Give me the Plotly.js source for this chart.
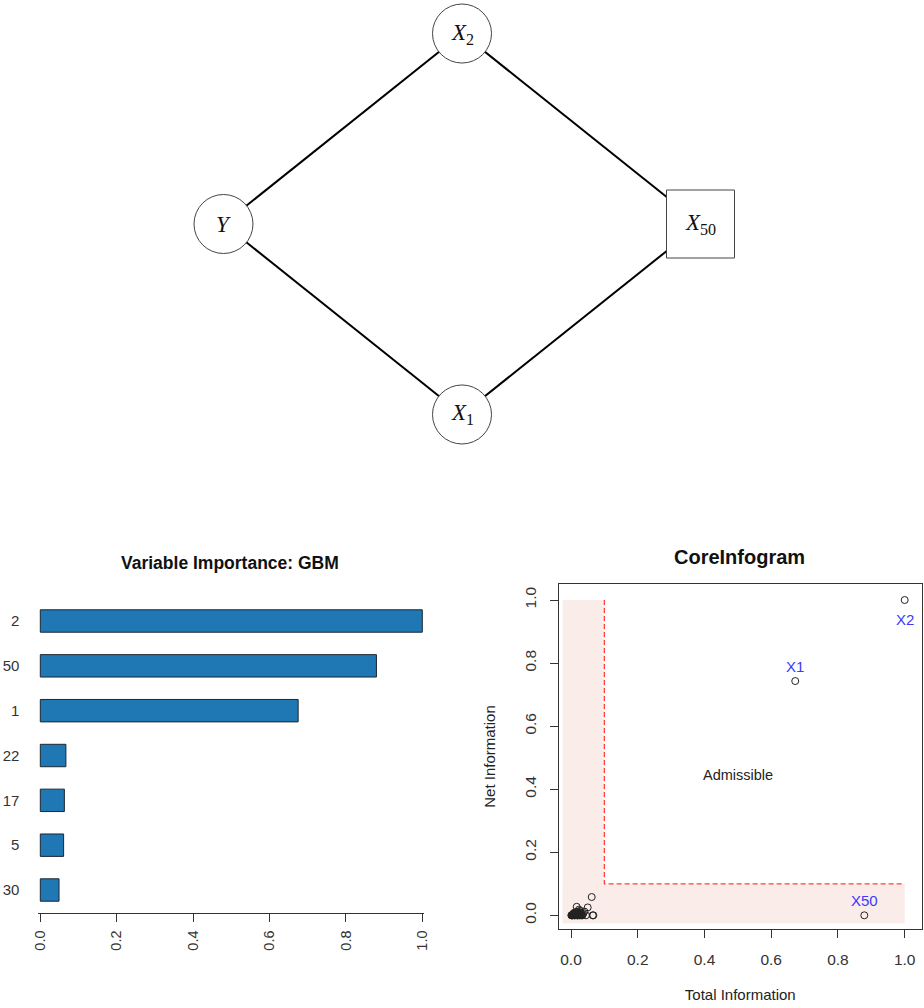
<!DOCTYPE html>
<html>
<head>
<meta charset="utf-8">
<script src="https://cdn.plot.ly/plotly-3.0.1.min.js"></script>
<style>html,body{margin:0;padding:0;background:#fff;}#chart{width:924px;height:1008px;}</style>
</head>
<body>
<div id="chart"></div>
<script>
// ---- Graph (top) ----
const nodeNames = ['Y', 'X2', 'X1', 'X50'];
const nodeLabels = ['<i>Y</i>', '<i>X</i><sub>2</sub>', '<i>X</i><sub>1</sub>', '<i>X</i><sub>50</sub>'];
const nodeX = [0, 1, 1, 2];
const nodeY = [0, 1, -1, 0];
const nodeShape = ['circle', 'circle', 'circle', 'rect'];
const edges = [['Y', 'X2'], ['X2', 'X50'], ['Y', 'X1'], ['X1', 'X50']];

// ---- Variable importance (bottom left) ----
const impLabels = ['2', '50', '1', '22', '17', '5', '30'];
const impValues = [1.0, 0.880, 0.675, 0.067, 0.063, 0.061, 0.049];
const impTicks = [0, 0.2, 0.4, 0.6, 0.8, 1.0];
const impTickText = ['0.0', '0.2', '0.4', '0.6', '0.8', '1.0'];

// ---- CoreInfogram (bottom right) ----
const namedVars = ['X1', 'X2', 'X50'];
const namedTotal = [0.672, 1.0, 0.879];
const namedNet = [0.743, 1.0, 0.0];
const namedLabelPos = ['above', 'below', 'above'];
const otherTotal = [0.062,0.050,0.017,0.024,0.040,0.067,0.065,0.045,0.036,0.030,0.028,0.021,0.013,0.008,0.004,0.002,0.006,0.010,0.012,0.015,0.018,0.020,0.022,0.025,0.027,0.032,0.034,0.003,0.005,0.007,0.009,0.011,0.014,0.016,0.019,0.023,0.026,0.029,0.031,0.001,0.012,0.018,0.024,0.008,0.015,0.021,0.027];
const otherNet = [0.058,0.025,0.027,0.018,0.012,0.0,0.0,0.0,0.004,0.008,0.014,0.012,0.010,0.004,0.0,0.0,0.002,0.0,0.003,0.0,0.005,0.0,0.007,0.003,0.0,0.002,0.0,0.001,0.0,0.001,0.003,0.0,0.002,0.004,0.0,0.002,0.009,0.001,0.0,0.0,0.006,0.010,0.0,0.007,0.001,0.004,0.005];
const cutoff = 0.1;
const regionMin = -0.025;
const regionMax = 1.0;
const coreTicks = [0, 0.2, 0.4, 0.6, 0.8, 1.0];
const coreTickText = ['0.0', '0.2', '0.4', '0.6', '0.8', '1.0'];

const FONT = 'Liberation Sans, Arial, sans-serif';
const SERIF = 'Liberation Serif, Times New Roman, serif';

const traces = [];

// edges
const ex = [], ey = [];
edges.forEach(([a, b]) => {
  const i = nodeNames.indexOf(a), j = nodeNames.indexOf(b);
  ex.push(nodeX[i], nodeX[j], null);
  ey.push(nodeY[i], nodeY[j], null);
});
traces.push({
  type: 'scatter', mode: 'lines', x: ex, y: ey, xaxis: 'x3', yaxis: 'y3',
  line: {color: '#000', width: 2}, hoverinfo: 'skip'
});

// bars
traces.push({
  type: 'bar', orientation: 'h', x: impValues, y: impLabels, xaxis: 'x', yaxis: 'y',
  width: 0.5,
  marker: {color: '#1F77B4', line: {color: '#1b2733', width: 1}}
});

// cutoff dashed line
traces.push({
  type: 'scatter', mode: 'lines', x: [cutoff, cutoff, regionMax], y: [regionMax, cutoff, cutoff],
  xaxis: 'x2', yaxis: 'y2', line: {color: '#FF4040', width: 1.3, dash: '5px,3px'}, hoverinfo: 'skip'
});

// points
traces.push({
  type: 'scatter', mode: 'markers', x: otherTotal.concat(namedTotal), y: otherNet.concat(namedNet),
  xaxis: 'x2', yaxis: 'y2',
  marker: {symbol: 'circle-open', size: 7, color: '#222', line: {width: 1, color: '#222'}}
});

const shapes = [];
nodeNames.forEach((n, i) => {
  const half = nodeShape[i] === 'rect' ? 34 : 29.5;
  shapes.push({
    type: nodeShape[i], xref: 'x3', yref: 'y3', xsizemode: 'pixel', ysizemode: 'pixel',
    xanchor: nodeX[i], yanchor: nodeY[i], x0: -half, x1: half, y0: -half, y1: half,
    fillcolor: '#fff', line: {color: '#444', width: 1}, layer: 'above'
  });
});
// admissible complement region (L shape)
const pink = '#FAECE8';
shapes.push({type: 'rect', xref: 'x2', yref: 'y2', x0: regionMin, x1: cutoff, y0: regionMin, y1: regionMax,
  fillcolor: pink, line: {width: 0}, layer: 'below'});
shapes.push({type: 'rect', xref: 'x2', yref: 'y2', x0: regionMin, x1: regionMax, y0: regionMin, y1: cutoff,
  fillcolor: pink, line: {width: 0}, layer: 'below'});

const annotations = [];
nodeNames.forEach((n, i) => {
  annotations.push({
    xref: 'x3', yref: 'y3', x: nodeX[i], y: nodeY[i], text: nodeLabels[i], showarrow: false,
    font: {family: SERIF, size: 23, color: '#111'}, xanchor: 'center', yanchor: 'middle'
  });
});
namedVars.forEach((v, i) => {
  annotations.push({
    xref: 'x2', yref: 'y2', x: namedTotal[i], y: namedNet[i], text: v, showarrow: false,
    yshift: namedLabelPos[i] === 'above' ? 15 : -19,
    font: {family: FONT, size: 15, color: '#3A3AFF'}
  });
});
annotations.push({xref: 'x2', yref: 'y2', x: 0.5, y: 0.445, text: 'Admissible', showarrow: false,
  font: {family: FONT, size: 14.5, color: '#222'}});
annotations.push({xref: 'paper', yref: 'paper', x: 229.5 / 924, y: (1008 - 562.5) / 1008,
  text: '<b>Variable Importance: GBM</b>', showarrow: false, xanchor: 'center', yanchor: 'middle',
  font: {family: FONT, size: 17.5, color: '#111'}});
annotations.push({xref: 'paper', yref: 'paper', x: 739 / 924, y: (1008 - 557) / 1008,
  text: '<b>CoreInfogram</b>', showarrow: false, xanchor: 'center', yanchor: 'middle',
  font: {family: FONT, size: 20, color: '#111'}});

const layout = {
  width: 924, height: 1008, margin: {l: 0, r: 0, t: 0, b: 0},
  paper_bgcolor: '#fff', plot_bgcolor: 'rgba(0,0,0,0)', showlegend: false,
  font: {family: FONT, color: '#333'},
  xaxis: {
    domain: [38.4 / 924, 424.2 / 924], range: [-0.005, 1.005], anchor: 'y',
    tickvals: impTicks, ticktext: impTickText, tickangle: -90, ticks: 'outside', ticklen: 8,
    tickcolor: '#333', showline: true, linecolor: '#333', linewidth: 1, showgrid: false, zeroline: false,
    tickfont: {size: 14.5, color: '#333'}, ticklabelstandoff: 3, fixedrange: true
  },
  yaxis: {
    domain: [(1008 - 912.7) / 1008, (1008 - 598) / 1008], type: 'category', categoryarray: impLabels,
    categoryorder: 'array', range: [6.506, -0.513], anchor: 'x', showline: false, ticks: '',
    showgrid: false, zeroline: false, tickfont: {size: 15, color: '#333'}, ticklabelstandoff: 18,
    fixedrange: true
  },
  xaxis2: {
    domain: [559 / 924, 921.5 / 924], range: [-0.036, 1.0504], anchor: 'y2',
    tickvals: coreTicks, ticktext: coreTickText, ticks: 'outside', ticklen: 8, tickcolor: '#333',
    showline: true, mirror: true, linecolor: '#333', linewidth: 1, showgrid: false, zeroline: false,
    tickfont: {size: 15.5, color: '#333'}, ticklabelstandoff: 8,
    title: {text: 'Total Information', font: {size: 15, color: '#222'}, standoff: 22}, fixedrange: true
  },
  yaxis2: {
    domain: [(1008 - 929) / 1008, (1008 - 584) / 1008], range: [-0.0434, 1.0508], anchor: 'x2',
    tickvals: coreTicks, ticktext: coreTickText, tickangle: -90, ticks: 'outside', ticklen: 8,
    tickcolor: '#333', showline: true, mirror: true, linecolor: '#333', linewidth: 1,
    showgrid: false, zeroline: false, tickfont: {size: 15.5, color: '#333'}, ticklabelstandoff: 8,
    title: {text: 'Net Information', font: {size: 15, color: '#222'}, standoff: 22}, fixedrange: true
  },
  xaxis3: {domain: [0, 1], range: [-0.937, 2.937], anchor: 'y3', visible: false, fixedrange: true},
  yaxis3: {domain: [(1008 - 460) / 1008, 1], range: [-1.239, 1.176], anchor: 'x3', visible: false, fixedrange: true},
  shapes: shapes,
  annotations: annotations
};

Plotly.newPlot('chart', traces, layout, {displayModeBar: false, staticPlot: true});
</script>
</body>
</html>
